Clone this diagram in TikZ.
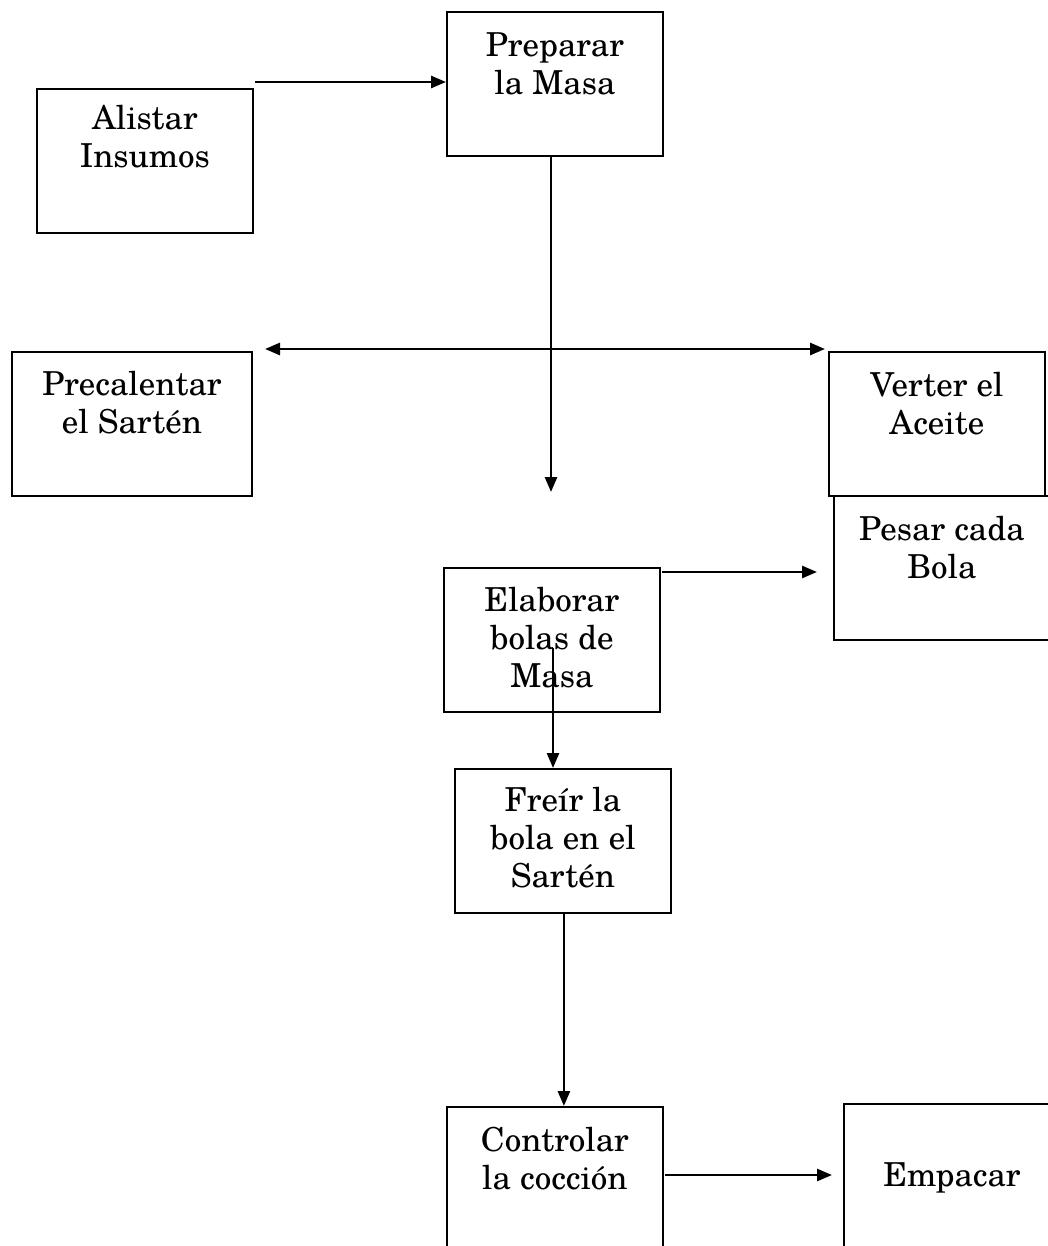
\documentclass[tikz,border=0pt]{standalone}
\usepackage{fontspec}
\setmainfont{TeX Gyre Schola}
\usetikzlibrary{arrows.meta}
\begin{document}
\begin{tikzpicture}[x=1pt,y=-1pt,
  box/.style={draw, line width=1.8pt, minimum width=216pt, minimum height=144pt,
    anchor=north west, inner sep=0pt},
  lbl/.style={anchor=north, align=center, inner sep=0pt,
    font=\fontsize{33}{38}\selectfont},
  flow/.style={line width=2.7pt, -{Triangle[length=15pt,width=12pt]}},
  both/.style={line width=2.7pt, {Triangle[length=15pt,width=12pt]}-{Triangle[length=15pt,width=12pt]}}]
\useasboundingbox (0,0) rectangle (1048,1246);
\clip (0,0) rectangle (1048,1246);

% process boxes
\node[box] (alist) at (36,88) {};
\node[box] (prep) at (446,11) {};
\node[box, minimum width=240pt] (prec) at (11,351) {};
\node[box] (vert) at (828,351) {};
\node[box] (pesar) at (833,495) {};
\node[box] (elab) at (443,567) {};
\node[box] (freir) at (454,768) {};
\node[box] (ctrl) at (446,1106) {};
\node[box] (emp) at (843,1103) {};

% box texts
\node[lbl] (alistT) at ([yshift=-17pt]alist.north) {Alistar\\Insumos};
\node[lbl] (prepT) at ([yshift=-21pt]prep.north) {Preparar\\la Masa};
\node[lbl] (precT) at ([yshift=-20pt]prec.north) {Precalentar\\el Sartén};
\node[lbl] (vertT) at ([yshift=-21pt]vert.north) {Verter el\\Aceite};
\node[lbl] (pesarT) at ([yshift=-21pt]pesar.north) {Pesar cada\\Bola};
\node[lbl] (elabT) at ([yshift=-20pt]elab.north) {Elaborar\\bolas de\\Masa};
\node[lbl] (freirT) at ([yshift=-19pt]freir.north) {Freír la\\bola en el\\Sartén};
\node[lbl] (ctrlT) at ([yshift=-21pt]ctrl.north) {Controlar\\la cocción};
\node[lbl] (empT) at ([yshift=-59pt]emp.north) {Empacar};

% free connector ends
\coordinate (a0) at (255,82);
\coordinate (m1) at (551,492);
\coordinate (hl) at (265,349);
\coordinate (hr) at (825,349);
\coordinate (e0) at (662,572);
\coordinate (e1) at (817,572);
\coordinate (e2) at (553,648);
\coordinate (c0) at (665,1175);
\coordinate (c1) at (832,1175);

% connectors
\draw[flow] (a0) -- (prep.west |- a0);
\draw[flow] (prep.south -| m1) -- (m1);
\draw[both] (hl) -- (hr);
\draw[flow] (e0) -- (e1);
\draw[flow] (e2) -- (e2 |- freir.north);
\draw[flow] ([xshift=1pt]freir.south) -- ([xshift=1pt]freir.south |- ctrl.north);
\draw[flow] (c0) -- (c1);
\end{tikzpicture}
\end{document}
